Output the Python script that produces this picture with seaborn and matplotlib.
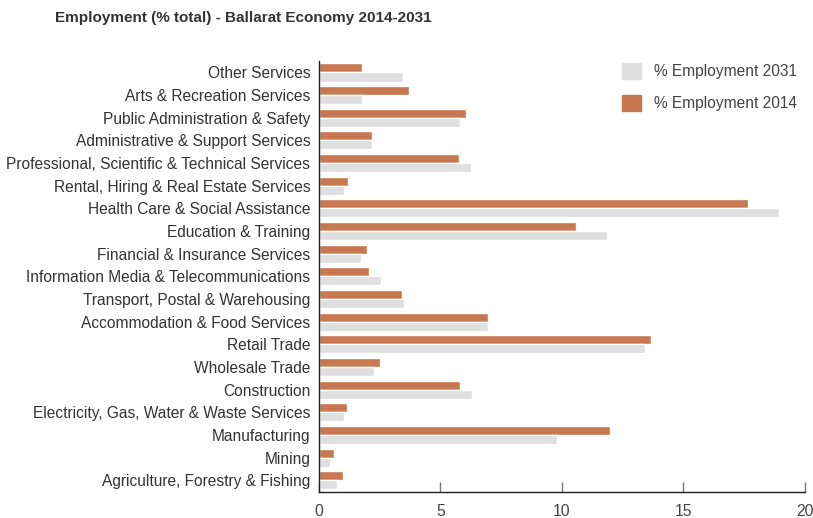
import pandas as pd
import matplotlib
matplotlib.use("Agg")
import matplotlib.pyplot as plt
import matplotlib.patches as mpatches
import seaborn as sns

# Ballarat employment by industry, top to bottom as drawn
industries = [
    "Other Services",
    "Arts & Recreation Services",
    "Public Administration & Safety",
    "Administrative & Support Services",
    "Professional, Scientific & Technical Services",
    "Rental, Hiring & Real Estate Services",
    "Health Care & Social Assistance",
    "Education & Training",
    "Financial & Insurance Services",
    "Information Media & Telecommunications",
    "Transport, Postal & Warehousing",
    "Accommodation & Food Services",
    "Retail Trade",
    "Wholesale Trade",
    "Construction",
    "Electricity, Gas, Water & Waste Services",
    "Manufacturing",
    "Mining",
    "Agriculture, Forestry & Fishing",
]
emp_2014 = [1.78, 3.72, 6.05, 2.19, 5.77, 1.21, 17.67, 10.59, 1.99, 2.07,
            3.43, 6.97, 13.68, 2.52, 5.82, 1.17, 11.99, 0.63, 1.00]
emp_2031 = [3.45, 1.78, 5.82, 2.19, 6.27, 1.04, 18.94, 11.86, 1.74, 2.56,
            3.51, 6.97, 13.43, 2.28, 6.31, 1.04, 9.81, 0.47, 0.75]
series = ["% Employment 2014", "% Employment 2031"]
colors = {"% Employment 2014": "#C77850", "% Employment 2031": "#DFDFDF"}

df = pd.concat([
    pd.DataFrame({"industry": industries, "value": emp_2014, "series": series[0]}),
    pd.DataFrame({"industry": industries, "value": emp_2031, "series": series[1]}),
])

sns.set_style("white")
plt.rcParams["font.family"] = ["Liberation Sans", "DejaVu Sans"]

fig = plt.figure(figsize=(8.13, 5.18), dpi=100)
ax = fig.add_axes([0.392, 0.051, 0.598, 0.831])

sns.barplot(data=df, y="industry", x="value", hue="series", order=industries,
            hue_order=series, palette=colors, orient="h", width=0.8,
            saturation=1, errorbar=None, ax=ax)

ax.set_xlim(0, 20)
ax.set_xticks([0, 5, 10, 15, 20])
ax.set_xlabel("")
ax.set_ylabel("")
ax.tick_params(axis="x", bottom=True, direction="in", length=7, width=1,
               color="#777777", labelsize=11.3, labelcolor="#444444", pad=9)
ax.tick_params(axis="y", left=False, length=0, labelsize=11.2,
               labelcolor="#333333", pad=6)
for side in ["top", "right"]:
    ax.spines[side].set_visible(False)
for side in ["left", "bottom"]:
    ax.spines[side].set_color("#222222")
    ax.spines[side].set_linewidth(1)

ax.get_legend().remove()
handles = [mpatches.Patch(color=colors[s], label=s) for s in reversed(series)]
fig.legend(handles=handles, loc="upper right", bbox_to_anchor=(0.997, 0.905),
           frameon=False, fontsize=11.2, handlelength=1.2, handleheight=1.2,
           labelspacing=1.0, handletextpad=0.8, labelcolor="#444444")

fig.text(0.068, 0.965, "Employment (% total) - Ballarat Economy 2014-2031",
         fontsize=11, fontweight="bold", color="#333333", va="center")

fig.savefig("out.png", dpi=100)
